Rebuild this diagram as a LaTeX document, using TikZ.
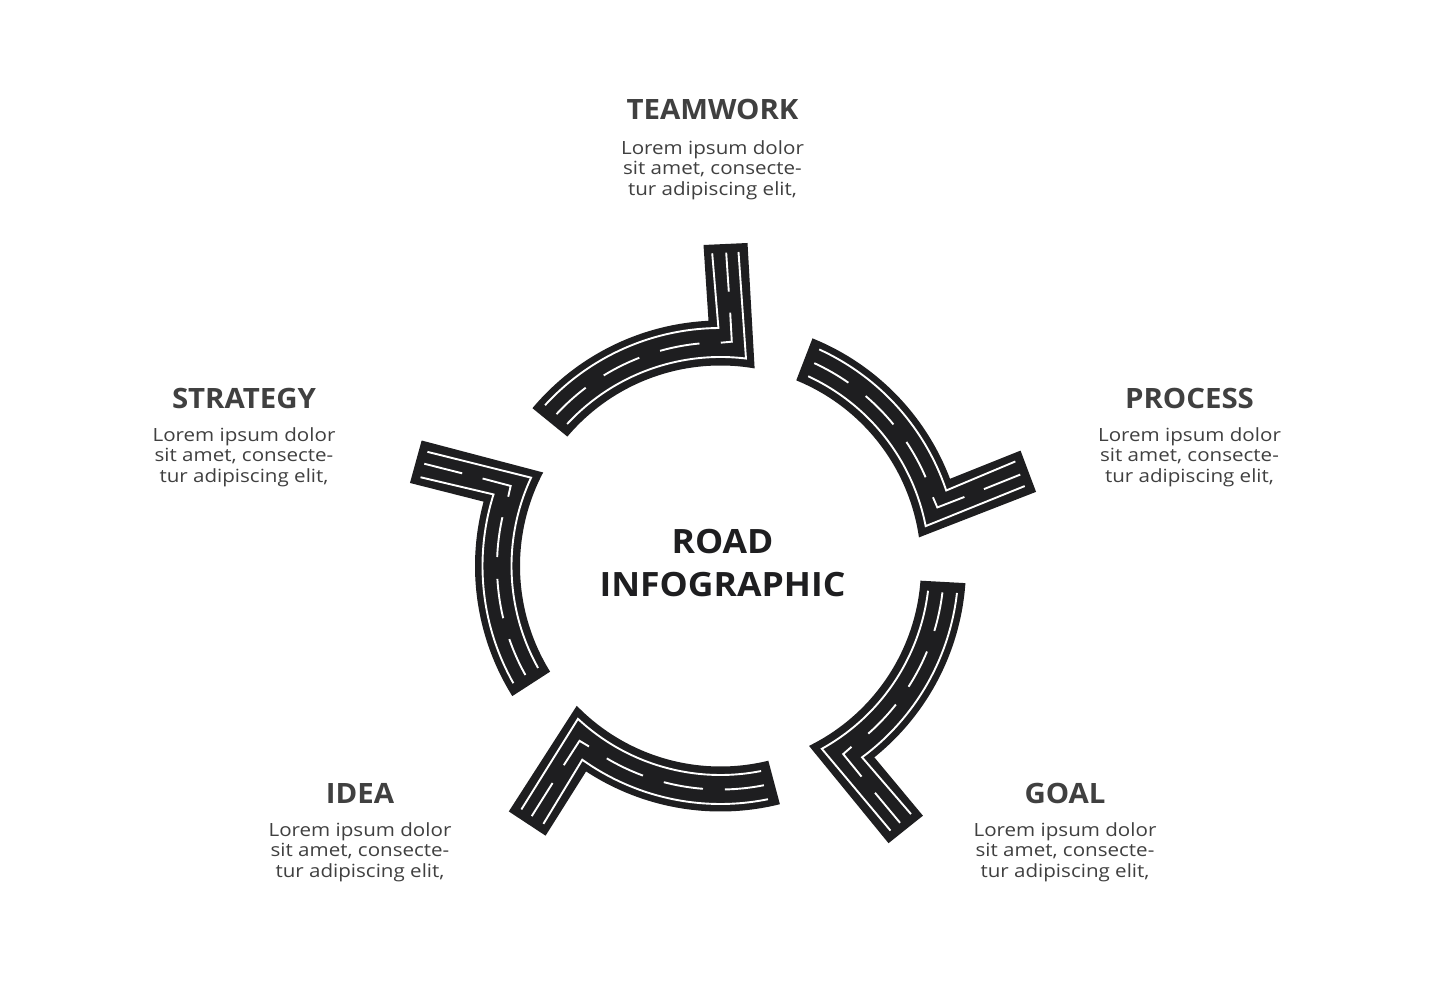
\documentclass[tikz,border=0pt]{standalone}
\usepackage{fontspec}
\setmainfont{Open Sans}
\definecolor{roadblack}{HTML}{1E1E20}
\definecolor{inkgrey}{HTML}{404040}
\tikzset{
  roadbody/.style={fill=roadblack,draw=none},
  laneline/.style={draw=white,line width=1.9pt,line cap=butt,line join=miter},
  headtext/.style={text=inkgrey,font=\fontsize{28}{32}\selectfont\bfseries,anchor=center,inner sep=0pt,xscale=1.05,transform shape},
  bodytext/.style={text=inkgrey,font=\fontsize{18.2}{20.5}\selectfont,align=center,anchor=center,inner sep=0pt,xscale=1.13,transform shape},
  centertext/.style={text=roadblack,font=\fontsize{33.5}{43}\selectfont\bfseries,align=center,anchor=center,inner sep=0pt,xscale=1.06,transform shape},
}
\begin{document}
\begin{tikzpicture}[x=1pt,y=1pt]
\useasboundingbox (0,0) rectangle (1435,980);
\fill[white] (0,0) rectangle (1435,980);
\foreach \rot in {0,-72,-144,-216,-288}{
\begin{scope}[shift={(720.5,414)},rotate=\rot]
  \path[roadbody] (139.8:200.5) arc[start angle=139.8,end angle=80.2,radius=200.5]
     -- (27,323) -- (-17,321) -- (92.8:245.5)
     arc[start angle=92.8,end angle=140,radius=245.5] -- cycle;
  \draw[laneline] (137.5:238) arc[start angle=137.5,end angle=90.5,radius=238] -- (-8.3,312.7);
  \draw[laneline] (137.2:209) arc[start angle=137.2,end angle=83,radius=209] -- (18,314);
  \draw[laneline] (5.7,313.3) -- (8.3,274.3);
  \draw[laneline] (9.7,253.3) -- (11.3,224.3) -- (0.3,223.3);
  \draw[laneline] (95.4:223.5) arc[start angle=95.4,end angle=105.7,radius=223.5];
  \draw[laneline] (111.3:223.5) arc[start angle=111.3,end angle=121.5,radius=223.5];
  \draw[laneline] (127.1:223.5) arc[start angle=127.1,end angle=137.2,radius=223.5];
\end{scope}
}
\node[headtext] (h1) at (712.5,871) {TEAMWORK};
\node[bodytext] (b1) at (712.5,810) {Lorem ipsum dolor\\sit amet, consecte-\\tur adipiscing elit,};
\node[headtext] (h2) at (1189.5,581.5) {PROCESS};
\node[bodytext] (b2) at (1189.5,523) {Lorem ipsum dolor\\sit amet, consecte-\\tur adipiscing elit,};
\node[headtext] (h3) at (1065,187) {GOAL};
\node[bodytext] (b3) at (1065,128) {Lorem ipsum dolor\\sit amet, consecte-\\tur adipiscing elit,};
\node[headtext] (h4) at (360,187) {IDEA};
\node[bodytext] (b4) at (360,128) {Lorem ipsum dolor\\sit amet, consecte-\\tur adipiscing elit,};
\node[headtext] (h5) at (244,581.5) {STRATEGY};
\node[bodytext] (b5) at (244,523) {Lorem ipsum dolor\\sit amet, consecte-\\tur adipiscing elit,};
\node[centertext] (c) at (722.5,417) {ROAD\\INFOGRAPHIC};
\end{tikzpicture}
\end{document}
